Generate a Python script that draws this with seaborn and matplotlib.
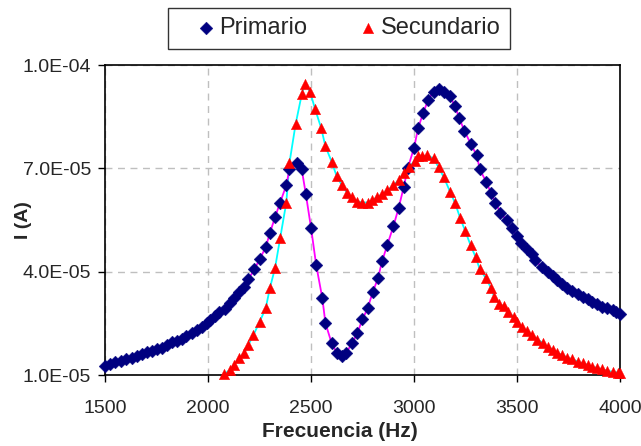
import matplotlib
matplotlib.use("Agg")
import matplotlib.pyplot as plt
import matplotlib.ticker as mticker
import seaborn as sns
import pandas as pd

# frequencies (Hz) and currents (x 1e-5 A)
f_prim = [1500, 1525, 1550, 1575, 1600, 1630, 1655, 1680, 1705, 1730, 1750, 1775,
          1800, 1825, 1850, 1875, 1895, 1920, 1945, 1970, 1995, 2010, 2035, 2055,
          2080, 2105, 2125, 2150, 2175, 2195, 2225, 2250, 2280, 2300, 2325, 2350,
          2380, 2395, 2430, 2455, 2475, 2500, 2525, 2555, 2570, 2600, 2625, 2650,
          2670, 2700, 2725, 2750, 2775, 2800, 2825, 2845, 2870, 2900, 2925, 2950,
          2970, 3000, 3020, 3045, 3070, 3095, 3120, 3145, 3175, 3200, 3220, 3245,
          3275, 3305, 3320, 3350, 3375, 3395, 3420, 3450, 3475, 3500, 3520, 3550,
          3575, 3590, 3620, 3650, 3675, 3695, 3720, 3745, 3770, 3795, 3820, 3845,
          3865, 3890, 3915, 3940, 3965, 3980, 4000]
i_prim = [1.26, 1.32, 1.37, 1.41, 1.46, 1.51, 1.56, 1.61, 1.66, 1.70, 1.75, 1.80,
          1.87, 1.95, 1.99, 2.06, 2.14, 2.23, 2.30, 2.40, 2.50, 2.61, 2.72, 2.82,
          2.93, 3.09, 3.23, 3.41, 3.55, 3.78, 4.07, 4.36, 4.71, 5.12, 5.58, 6.01,
          6.51, 6.97, 7.15, 6.97, 6.25, 5.28, 4.20, 3.23, 2.51, 1.93, 1.64, 1.55,
          1.64, 1.93, 2.22, 2.62, 2.94, 3.41, 3.81, 4.30, 4.77, 5.32, 5.84, 6.45,
          7.01, 7.59, 8.16, 8.62, 9.00, 9.23, 9.32, 9.23, 9.09, 8.80, 8.45, 8.10,
          7.72, 7.38, 6.97, 6.62, 6.28, 6.01, 5.72, 5.49, 5.26, 5.03, 4.83, 4.65,
          4.51, 4.33, 4.14, 3.99, 3.87, 3.75, 3.64, 3.53, 3.44, 3.35, 3.27, 3.20,
          3.12, 3.06, 2.98, 2.94, 2.88, 2.83, 2.77]

f_sec = [2075, 2105, 2125, 2150, 2175, 2195, 2220, 2250, 2280, 2300, 2325, 2350,
         2380, 2395, 2425, 2455, 2470, 2495, 2520, 2550, 2570, 2600, 2625, 2650,
         2675, 2700, 2725, 2750, 2775, 2795, 2820, 2845, 2870, 2900, 2925, 2950,
         2975, 3005, 3020, 3040, 3065, 3095, 3120, 3145, 3175, 3200, 3225, 3250,
         3275, 3300, 3320, 3350, 3375, 3390, 3415, 3435, 3455, 3485, 3500, 3525,
         3550, 3575, 3600, 3625, 3650, 3675, 3695, 3720, 3745, 3770, 3795, 3820,
         3845, 3865, 3890, 3915, 3940, 3965, 3990, 4000]
i_sec = [1.02, 1.14, 1.29, 1.49, 1.64, 1.87, 2.16, 2.54, 2.94, 3.52, 4.10, 4.97,
         6.01, 7.15, 8.28, 9.15, 9.46, 9.23, 8.72, 8.16, 7.64, 7.20, 6.77, 6.51,
         6.30, 6.16, 6.04, 6.01, 6.01, 6.07, 6.16, 6.25, 6.36, 6.51, 6.65, 6.86,
         7.03, 7.23, 7.35, 7.35, 7.38, 7.29, 7.03, 6.74, 6.33, 5.99, 5.55, 5.17,
         4.77, 4.42, 4.07, 3.81, 3.52, 3.26, 3.06, 3.00, 2.83, 2.69, 2.54, 2.40,
         2.28, 2.16, 2.03, 1.94, 1.82, 1.74, 1.65, 1.58, 1.51, 1.46, 1.39, 1.34,
         1.29, 1.24, 1.21, 1.17, 1.12, 1.10, 1.07, 1.05]

# start of the secondary fit curve (runs below the axis at ~2030 Hz)
f_fit_start = [2035, 2055]
i_fit_start = [0.80, 0.92]

prim = pd.DataFrame({"f": f_prim, "I": [v * 1e-5 for v in i_prim]})
sec = pd.DataFrame({"f": f_sec, "I": [v * 1e-5 for v in i_sec]})
sec_fit = pd.DataFrame({"f": f_fit_start + f_sec,
                        "I": [v * 1e-5 for v in i_fit_start + i_sec]})

sns.set_style("ticks")
plt.rcParams["font.family"] = ["Liberation Sans", "DejaVu Sans"]

fig = plt.figure(figsize=(6.41, 4.46), dpi=100)
ax = fig.add_axes([0.164, 0.159, 0.803, 0.695])

# fitted curves under the markers
sns.lineplot(data=sec_fit, x="f", y="I", ax=ax, color="#00FFFF", lw=1.3, sort=False, zorder=2)
sns.lineplot(data=prim, x="f", y="I", ax=ax, color="#FF00FF", lw=1.3, sort=False, zorder=2)

sns.scatterplot(data=prim, x="f", y="I", ax=ax, marker="D", s=42, color="#000080",
                edgecolor="#000080", linewidth=0.3, label="Primario", zorder=3, clip_on=False)
sns.scatterplot(data=sec, x="f", y="I", ax=ax, marker="^", s=56, color="#FF0000",
                edgecolor="#FF0000", linewidth=0.3, label="Secundario", zorder=4, clip_on=False)

ax.set_xlim(1500, 4000)
ax.set_ylim(1e-5, 1e-4)
ax.set_xticks([1500, 2000, 2500, 3000, 3500, 4000])
ax.set_yticks([1e-5, 4e-5, 7e-5, 1e-4])
ax.yaxis.set_major_formatter(mticker.FuncFormatter(lambda v, p: f"{v:.1E}"))
ax.tick_params(labelsize=14, length=5, width=1, color="black")
ax.tick_params(axis="x", pad=13)
ax.tick_params(axis="y", pad=5)
ax.grid(True, color="#BFBFBF", linestyle=(0, (5, 4)), linewidth=1)
for s in ax.spines.values():
    s.set_visible(True)
    s.set_color("black")
    s.set_linewidth(1.2)

ax.set_xlabel("Frecuencia (Hz)", fontsize=15, fontweight="bold")
ax.set_ylabel("I (A)", fontsize=14, fontweight="bold")
ax.xaxis.set_label_coords(0.456, -0.152)
ax.yaxis.set_label_coords(-0.142, 0.5)

ax.legend_.remove()
h, l = ax.get_legend_handles_labels()
leg = fig.legend(h, l, loc="upper left", bbox_to_anchor=(0.262, 0.982), ncol=2,
                 fontsize=17, frameon=True, fancybox=False, edgecolor="black",
                 handlelength=2.4, handletextpad=-0.65, columnspacing=1.4,
                 borderpad=0.4, borderaxespad=0)
leg.get_frame().set_linewidth(1.0)

fig.savefig("out.png", dpi=100)
